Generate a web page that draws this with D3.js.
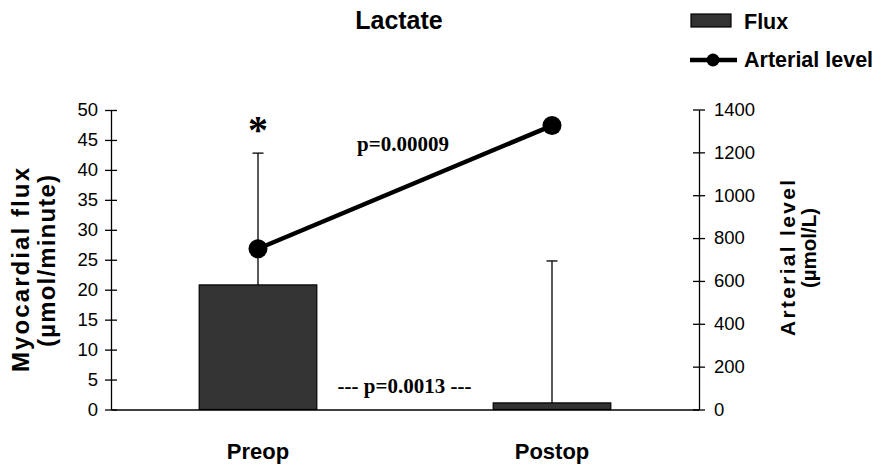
<!DOCTYPE html>
<html>
<head>
<meta charset="utf-8">
<script src="https://cdn.jsdelivr.net/npm/d3@7"></script>
<style>
  html, body { margin: 0; padding: 0; background: #fff; }
  svg { display: block; }
</style>
</head>
<body>
<svg id="chart" width="886" height="467"></svg>
<script>
const categories = ["Preop", "Postop"];
const fluxValues = [20.8, 1.1];
const fluxErrorTop = [42.8, 24.8];
const arterialValues = [750, 1325];
const leftTicks = [0, 5, 10, 15, 20, 25, 30, 35, 40, 45, 50];
const rightTicks = [0, 200, 400, 600, 800, 1000, 1200, 1400];

const svg = d3.select("#chart");
const plotLeft = 111, plotRight = 699, plotTop = 110, plotBottom = 409.5;

const x = d3.scaleBand().domain(categories).range([plotLeft, plotRight]).paddingInner(0.6).paddingOuter(0.3);
const yL = d3.scaleLinear().domain([0, 50]).range([plotBottom, plotTop]);
const yR = d3.scaleLinear().domain([0, 1400]).range([plotBottom, plotTop - 0.5]);

const sans = "Arial, 'Liberation Sans', sans-serif";
const serif = "'Times New Roman', 'Liberation Serif', serif";

// Left axis
const gL = svg.append("g").attr("transform", `translate(${plotLeft},0)`)
  .call(d3.axisLeft(yL).tickValues(leftTicks).tickFormat(d3.format("d")).tickSize(6).tickSizeOuter(0).tickPadding(7));
gL.selectAll(".tick line").attr("x1", 6).attr("stroke", "#000").attr("stroke-width", 1.3);
gL.select(".domain").attr("stroke", "#000").attr("stroke-width", 1.3);
gL.selectAll("text").attr("font-family", sans).attr("font-size", 18.5).attr("fill", "#000");

// Right axis
const gR = svg.append("g").attr("transform", `translate(${plotRight},0)`)
  .call(d3.axisRight(yR).tickValues(rightTicks).tickFormat(d3.format("d")).tickSize(6).tickSizeOuter(0).tickPadding(9));
gR.selectAll(".tick line").attr("x1", -6).attr("stroke", "#000").attr("stroke-width", 1.3);
gR.select(".domain").attr("stroke", "#000").attr("stroke-width", 1.3);
gR.selectAll("text").attr("font-family", sans).attr("font-size", 18.5).attr("fill", "#000");

// Bottom axis
const gB = svg.append("g").attr("transform", `translate(0,${plotBottom})`)
  .call(d3.axisBottom(x).tickSize(0).tickPadding(34));
gB.select(".domain").attr("stroke", "#000").attr("stroke-width", 1.6);
gB.selectAll("text").attr("font-family", sans).attr("font-size", 22)
  .attr("font-weight", "bold").attr("fill", "#000");

// Error bars (behind bars)
const errs = svg.append("g");
categories.forEach((c, i) => {
  const cx = x(c) + x.bandwidth() / 2;
  errs.append("line").attr("x1", cx).attr("x2", cx)
    .attr("y1", yL(fluxValues[i])).attr("y2", yL(fluxErrorTop[i]))
    .attr("stroke", "#000").attr("stroke-width", 1.3);
  errs.append("line").attr("x1", cx - 5.5).attr("x2", cx + 5.5)
    .attr("y1", yL(fluxErrorTop[i])).attr("y2", yL(fluxErrorTop[i]))
    .attr("stroke", "#000").attr("stroke-width", 1.3);
});

// Bars
svg.append("g").selectAll("rect").data(categories).join("rect")
  .attr("x", d => x(d))
  .attr("y", (d, i) => yL(fluxValues[i]))
  .attr("width", x.bandwidth())
  .attr("height", (d, i) => plotBottom - yL(fluxValues[i]))
  .attr("fill", "#333333").attr("stroke", "#000").attr("stroke-width", 1.2);

// Arterial line
const lineData = categories.map((c, i) => [x(c) + x.bandwidth() / 2, yR(arterialValues[i])]);
svg.append("path").attr("d", d3.line()(lineData))
  .attr("fill", "none").attr("stroke", "#000").attr("stroke-width", 4.5);
svg.append("g").selectAll("circle").data(lineData).join("circle")
  .attr("cx", d => d[0]).attr("cy", d => d[1]).attr("r", 9.5).attr("fill", "#000");

// Annotations
svg.append("text").attr("x", x("Preop") + x.bandwidth() / 2).attr("y", 143)
  .attr("text-anchor", "middle").attr("font-family", serif).attr("font-weight", "bold")
  .attr("font-size", 40).text("*");
svg.append("text").attr("x", 403).attr("y", 151)
  .attr("text-anchor", "middle").attr("font-family", serif).attr("font-weight", "bold")
  .attr("font-size", 21).text("p=0.00009");
svg.append("text").attr("x", 404.5).attr("y", 393)
  .attr("text-anchor", "middle").attr("font-family", serif).attr("font-weight", "bold")
  .attr("font-size", 21).text("--- p=0.0013 ---");

// Title
svg.append("text").attr("x", 399).attr("y", 29).attr("text-anchor", "middle")
  .attr("font-family", sans).attr("font-weight", "bold").attr("font-size", 25).text("Lactate");

// Axis titles
function vtext(cx, cy, txt, size, len) {
  const t = svg.append("text").attr("transform", `translate(${cx},${cy}) rotate(-90)`)
    .attr("text-anchor", "middle").attr("font-family", sans).attr("font-weight", "bold")
    .attr("font-size", size).text(txt);
  if (len) t.attr("textLength", len).attr("lengthAdjust", "spacing");
}
vtext(29, 270, "Myocardial flux", 24, 204);
vtext(55, 261, "(µmol/minute)", 24, 172);
vtext(795, 258, "Arterial level", 21, 156);
vtext(816, 248, "(µmol/L)", 20.5, null);

// Legend
svg.append("rect").attr("x", 691).attr("y", 14).attr("width", 40).attr("height", 13)
  .attr("fill", "#333333").attr("stroke", "#000").attr("stroke-width", 1.2);
svg.append("text").attr("x", 744).attr("y", 29).attr("font-family", sans)
  .attr("font-weight", "bold").attr("font-size", 21.5).text("Flux");
svg.append("line").attr("x1", 690).attr("x2", 737).attr("y1", 60).attr("y2", 60)
  .attr("stroke", "#000").attr("stroke-width", 4.5);
svg.append("circle").attr("cx", 713).attr("cy", 60).attr("r", 6.5).attr("fill", "#000");
svg.append("text").attr("x", 744).attr("y", 67).attr("font-family", sans)
  .attr("font-weight", "bold").attr("font-size", 21.5).text("Arterial level");
</script>
</body>
</html>
